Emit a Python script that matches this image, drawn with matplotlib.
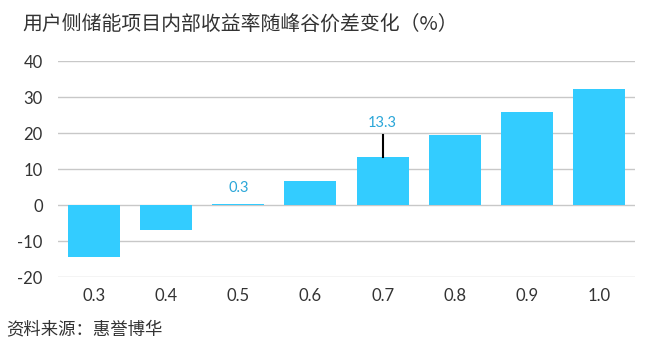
import matplotlib.pyplot as plt

plt.rcParams['font.family'] = ['Lato', 'Noto Sans CJK SC', 'DejaVu Sans']
plt.rcParams['axes.unicode_minus'] = False

spreads = ['0.3', '0.4', '0.5', '0.6', '0.7', '0.8', '0.9', '1.0']
irr = [-14.5, -6.9, 0.3, 6.8, 13.3, 19.5, 25.9, 32.1]

bar_color = '#33CCFF'
label_color = '#2AA6D8'
text_color = '#333333'

fig = plt.figure(figsize=(6.49, 3.53), dpi=100)
ax = fig.add_axes([58 / 649, 76 / 353, 577 / 649, 216 / 353])

x = list(range(len(spreads)))
ax.bar(x, irr, width=0.72, color=bar_color, zorder=3)

ax.set_ylim(-20, 40)
ax.set_xlim(-0.5, len(spreads) - 0.5)
ax.set_yticks(range(-20, 41, 10))
ax.set_xticks(x)
ax.set_xticklabels(spreads)
ax.yaxis.grid(True, color='#C8C8C8', linewidth=1, zorder=0)
ax.tick_params(axis='both', length=0, labelsize=12, colors=text_color)
ax.tick_params(axis='x', pad=8)
ax.tick_params(axis='y', pad=11)
for s in ax.spines.values():
    s.set_visible(False)

# data labels
i = spreads.index('0.5')
ax.text(i, 4.8, '0.3', ha='center', va='center', fontsize=10.5, color=label_color)
i = spreads.index('0.7')
ax.plot([i, i], [irr[i], 19.5], color='black', linewidth=1.5, zorder=4)
ax.text(i, 22.9, '13.3', ha='center', va='center', fontsize=10.5, color=label_color)

fig.text(22 / 649, 1 - 24 / 353, '用户侧储能项目内部收益率随峰谷价差变化（%）',
         fontsize=14.3, color=text_color, va='center', ha='left',
         family=['Noto Sans CJK SC', 'DejaVu Sans'])
fig.text(6 / 649, 1 - 329 / 353, '资料来源：惠誉博华',
         fontsize=12.5, color=text_color, va='center', ha='left',
         family=['Noto Sans CJK SC', 'DejaVu Sans'])

fig.savefig('out.png', dpi=100)
